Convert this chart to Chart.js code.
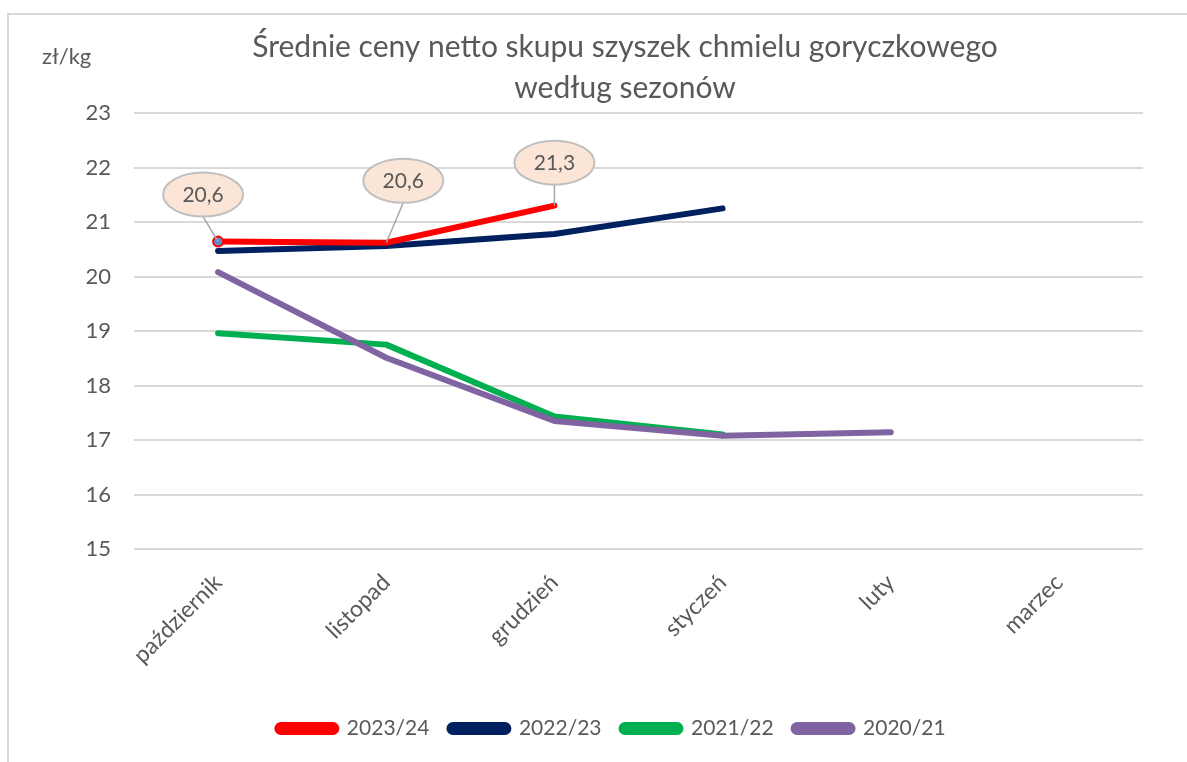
<!DOCTYPE html>
<html>
<head>
<meta charset="utf-8">
<script src="https://cdn.jsdelivr.net/npm/chart.js@4.4.1/dist/chart.umd.min.js"></script>
<style>
html,body{margin:0;padding:0;background:#fff;}
#wrap{position:relative;width:1187px;height:762px;}
</style>
</head>
<body>
<div id="wrap"><canvas id="c" width="1187" height="762"></canvas></div>
<script>
const categories = ['październik', 'listopad', 'grudzień', 'styczeń', 'luty', 'marzec'];
const seriesNames = ['2023/24', '2022/23', '2021/22', '2020/21'];
const s2023_24 = [20.64, 20.62, 21.3, null, null, null];
const s2022_23 = [20.47, 20.56, 20.78, 21.25, null, null];
const s2021_22 = [18.96, 18.75, 17.43, 17.1, null, null];
const s2020_21 = [20.08, 18.51, 17.35, 17.08, 17.14, null];
const yTicks = [15, 16, 17, 18, 19, 20, 21, 22, 23];
const titleLines = ['Średnie ceny netto skupu szyszek chmielu goryczkowego', 'według sezonów'];
const unitLabel = 'zł/kg';

const FONT = 'Lato';
const TXT = '#595959';
Chart.defaults.font.family = FONT;
Chart.defaults.color = TXT;

const colors = ['#FF0000', '#002060', '#00B050', '#8064A2'];
const orders = [0, 1, 3, 2];
const allSeries = [s2023_24, s2022_23, s2021_22, s2020_21];

const datasets = allSeries.map((d, i) => ({
  label: seriesNames[i],
  data: d,
  borderColor: colors[i],
  backgroundColor: colors[i],
  borderWidth: 6,
  borderCapStyle: 'round',
  borderJoinStyle: 'round',
  tension: 0,
  order: orders[i],
  spanGaps: false,
  pointRadius: i === 0 ? (ctx => ctx.dataIndex === 0 ? 5 : 0) : 0,
  pointBackgroundColor: '#5B8BC8',
  pointBorderColor: '#FF0000',
  pointBorderWidth: 2,
  pointHoverRadius: 0
}));

const LEGEND_SHIFT = 40;
const decor = {
  id: 'decor',
  beforeDraw(chart) {
    const lg = chart.legend;
    if (lg && !lg._shifted) { lg.left += LEGEND_SHIFT; lg.right += LEGEND_SHIFT; lg._shifted = true; }
    const ctx = chart.ctx;
    ctx.save();
    ctx.fillStyle = '#fff';
    ctx.fillRect(0, 0, chart.width, chart.height);
    ctx.strokeStyle = '#D9D9D9';
    ctx.lineWidth = 2;
    ctx.beginPath();
    ctx.moveTo(8, chart.height);
    ctx.lineTo(8, 14);
    ctx.lineTo(chart.width, 14);
    ctx.stroke();
    ctx.fillStyle = TXT;
    ctx.font = '30px ' + FONT;
    ctx.textAlign = 'center';
    ctx.textBaseline = 'middle';
    ctx.fillText(titleLines[0], 625, 47);
    ctx.fillText(titleLines[1], 625, 88);
    ctx.font = '22px ' + FONT;
    ctx.textAlign = 'left';
    ctx.fillText(unitLabel, 42, 57);
    ctx.restore();
  },
  afterDatasetsDraw(chart) {
    const ctx = chart.ctx;
    const meta = chart.getDatasetMeta(0);
    const offsets = [[-15, -47], [17, -62], [0, -43]];
    ctx.save();
    meta.data.forEach((pt, i) => {
      const v = s2023_24[i];
      if (v == null || !offsets[i]) return;
      const cx = pt.x + offsets[i][0], cy = pt.y + offsets[i][1];
      const rx = 40, ry = 22;
      ctx.strokeStyle = '#A6A6A6';
      ctx.lineWidth = 1.5;
      ctx.beginPath();
      ctx.moveTo(cx, cy + ry);
      ctx.lineTo(pt.x, pt.y);
      ctx.stroke();
      ctx.beginPath();
      ctx.ellipse(cx, cy, rx, ry, 0, 0, Math.PI * 2);
      ctx.fillStyle = '#FBE5D6';
      ctx.fill();
      ctx.strokeStyle = '#BFBFBF';
      ctx.lineWidth = 2;
      ctx.stroke();
      ctx.fillStyle = TXT;
      ctx.font = '21px ' + FONT;
      ctx.textAlign = 'center';
      ctx.textBaseline = 'middle';
      ctx.fillText(v.toFixed(1).replace('.', ','), cx, cy + 1);
    });
    ctx.restore();
  }
};

new Chart(document.getElementById('c'), {
  type: 'line',
  data: { labels: categories, datasets },
  plugins: [decor],
  options: {
    responsive: false,
    animation: false,
    events: [],
    layout: { padding: { left: 0, right: 44, top: 113, bottom: 13 } },
    plugins: {
      title: { display: false },
      tooltip: { enabled: false },
      legend: {
        position: 'bottom',
        labels: {
          boxWidth: 59,
          boxHeight: 7,
          useBorderRadius: true,
          borderRadius: 3.5,
          padding: 20,
          color: TXT,
          font: { size: 21 },
          sort: (a, b) => a.datasetIndex - b.datasetIndex
        }
      }
    },
    scales: {
      x: {
        offset: true,
        grid: { display: false, drawTicks: false },
        border: { display: false },
        ticks: { autoSkip: false, maxRotation: 45, minRotation: 45, padding: 20, color: TXT, font: { size: 23 } },
        afterFit(scale) { scale.height = 149; }
      },
      y: {
        min: 15, max: 23,
        grid: { display: true, drawTicks: false, color: '#D9D9D9', lineWidth: 2 },
        border: { display: false },
        afterBuildTicks(scale) { scale.ticks = yTicks.map(v => ({ value: v })); },
        ticks: { padding: 23, color: TXT, font: { size: 22 } },
        afterFit(scale) { scale.width = 134; }
      }
    }
  }
});
</script>
</body>
</html>
